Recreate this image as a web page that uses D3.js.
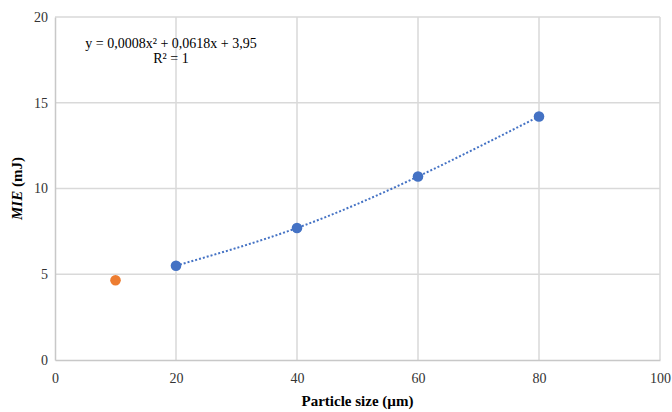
<!DOCTYPE html>
<html>
<head>
<meta charset="utf-8">
<script src="https://cdn.jsdelivr.net/npm/d3@7"></script>
<style>
  body { margin: 0; background: #fff; }
  svg text { font-family: "Liberation Serif", "DejaVu Serif", serif !important; }
</style>
</head>
<body>
<svg id="chart" width="672" height="412"></svg>
<script>
// data
var sizes = [20, 40, 60, 80];
var mie = [5.5, 7.7, 10.7, 14.2];
var extraSize = [10];
var extraMie = [4.65];
var xTicks = [0, 20, 40, 60, 80, 100];
var yTicks = [0, 5, 10, 15, 20];
var eqLines = ['y = 0,0008x² + 0,0618x + 3,95', 'R² = 1'];

var serif = '"Liberation Serif", "DejaVu Serif", serif';
var svg = d3.select('#chart');
var margin = {left: 55, right: 12, top: 17, bottom: 52};
var W = 672, H = 412;

var x = d3.scaleLinear().domain([0, 100]).range([margin.left, W - margin.right]);
var y = d3.scaleLinear().domain([0, 20]).range([H - margin.bottom, margin.top]);

// grid
svg.append('g')
  .selectAll('line')
  .data(xTicks.slice(1))
  .enter().append('line')
    .attr('x1', function(d) { return x(d); })
    .attr('x2', function(d) { return x(d); })
    .attr('y1', y(0))
    .attr('y2', y(20))
    .style('stroke', '#d9d9d9')
    .style('stroke-width', 1.5)
;
svg.append('g')
  .selectAll('line')
  .data(yTicks.slice(1))
  .enter().append('line')
    .attr('x1', x(0))
    .attr('x2', x(100))
    .attr('y1', function(d) { return y(d); })
    .attr('y2', function(d) { return y(d); })
    .style('stroke', '#d9d9d9')
    .style('stroke-width', 1.5)
;

// axes
var xAxis = svg.append('g')
  .attr('transform', 'translate(0,' + y(0) + ')')
  .call(d3.axisBottom(x).tickValues(xTicks).tickSize(0).tickPadding(13))
;
var yAxis = svg.append('g')
  .attr('transform', 'translate(' + x(0) + ',0)')
  .call(d3.axisLeft(y).tickValues(yTicks).tickSize(0).tickPadding(7))
;
[xAxis, yAxis].forEach(function(a) {
  a.attr('font-family', serif).attr('font-size', 14);
  a.select('.domain').style('stroke', '#c8c8c8').style('stroke-width', 1.5);
  a.selectAll('text').style('fill', '#333');
});

// trendline through the points
var pts = sizes.map(function(s, i) { return [s, mie[i]]; });
svg.append('path')
  .datum(pts)
  .attr('d', d3.line()
    .x(function(d) { return x(d[0]); })
    .y(function(d) { return y(d[1]); })
    .curve(d3.curveNatural))
  .style('fill', 'none')
  .style('stroke', '#4472c4')
  .style('stroke-width', 2)
  .style('stroke-dasharray', '2,2')
;

// points
svg.append('g')
  .selectAll('circle')
  .data(pts)
  .enter().append('circle')
    .attr('cx', function(d) { return x(d[0]); })
    .attr('cy', function(d) { return y(d[1]); })
    .attr('r', 5.3)
    .style('fill', '#4472c4')
;
svg.append('g')
  .selectAll('circle')
  .data(extraSize.map(function(s, i) { return [s, extraMie[i]]; }))
  .enter().append('circle')
    .attr('cx', function(d) { return x(d[0]); })
    .attr('cy', function(d) { return y(d[1]); })
    .attr('r', 5.3)
    .style('fill', '#ed7d31')
;

// equation
svg.append('g')
  .selectAll('text')
  .data(eqLines)
  .enter().append('text')
    .attr('x', 171)
    .attr('y', function(d, i) { return 48 + i * 15; })
    .attr('text-anchor', 'middle')
    .attr('font-family', serif)
    .attr('font-size', 14)
    .style('fill', '#000')
    .text(function(d) { return d; })
;

// axis titles
svg.append('text')
  .attr('x', (x(0) + x(100)) / 2)
  .attr('y', 406)
  .attr('text-anchor', 'middle')
  .attr('font-family', serif)
  .attr('font-size', 15)
  .attr('font-weight', 'bold')
  .style('fill', '#000')
  .text('Particle size (µm)')
;
var yt = svg.append('text')
  .attr('transform', 'translate(22,' + y(10) + ') rotate(-90)')
  .attr('text-anchor', 'middle')
  .attr('font-family', serif)
  .attr('font-size', 15)
  .attr('font-weight', 'bold')
  .style('fill', '#000')
;
yt.append('tspan').style('font-style', 'italic').text('MIE');
yt.append('tspan').text(' (mJ)');
</script>
</body>
</html>
